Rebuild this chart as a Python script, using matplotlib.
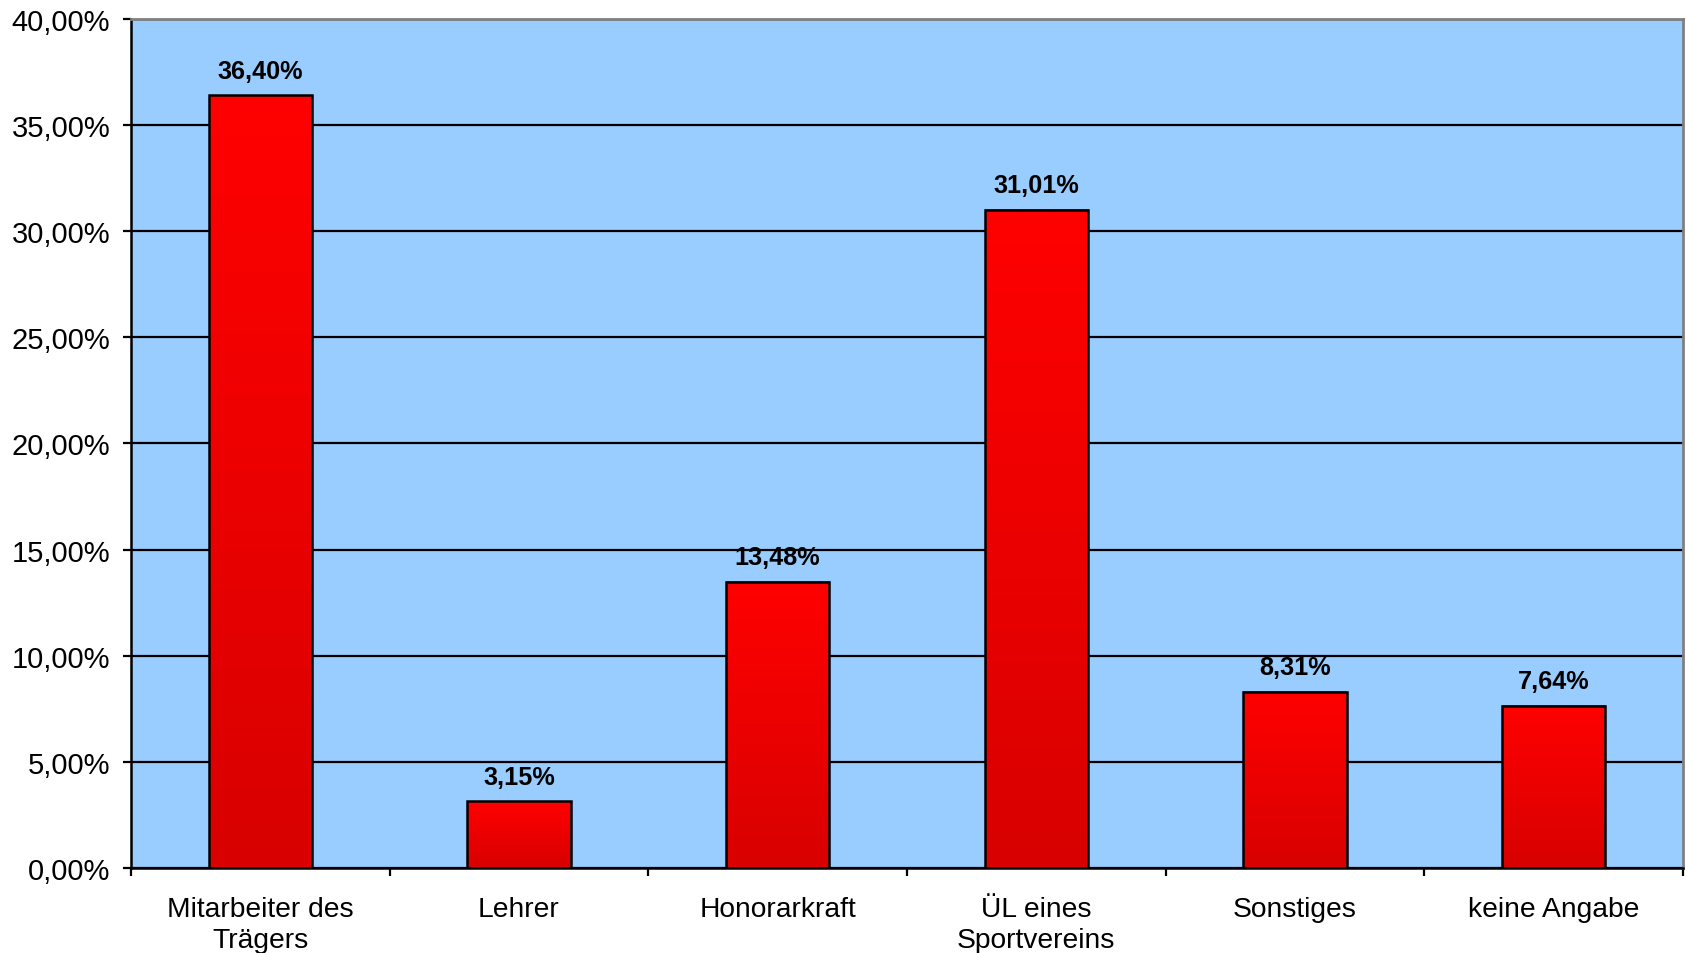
import numpy as np
import matplotlib.pyplot as plt
from matplotlib.colors import LinearSegmentedColormap
from matplotlib.ticker import FixedLocator, FuncFormatter

plt.rcParams['font.family'] = ['Liberation Sans', 'DejaVu Sans']

kategorien = ['Mitarbeiter des\nTrägers', 'Lehrer', 'Honorarkraft',
              'ÜL eines\nSportvereins', 'Sonstiges', 'keine Angabe']
werte = [36.40, 3.15, 13.48, 31.01, 8.31, 7.64]
y_ticks = [0, 5, 10, 15, 20, 25, 30, 35, 40]

fig = plt.figure(figsize=(16.86, 9.54), dpi=100)
ax = fig.add_axes([0.0777, 0.0891, 0.9205, 0.890])
ax.set_facecolor('#99CCFF')

verlauf = LinearSegmentedColormap.from_list('rot', ['#D80000', '#FF0000'])
grad = np.linspace(0, 1, 256).reshape(-1, 1)
breite = 0.4
x = np.arange(len(kategorien))

for xi, w in zip(x, werte):
    ax.imshow(grad, cmap=verlauf, origin='lower', aspect='auto',
              extent=(xi - breite / 2, xi + breite / 2, 0, w), zorder=3)
bars = ax.bar(x, werte, width=breite, facecolor='none', edgecolor='black',
              linewidth=1.8, zorder=4)

for xi, w in zip(x, werte):
    ax.annotate(f'{w:.2f}%'.replace('.', ','), (xi, w), xytext=(0, 9),
                textcoords='offset points', ha='center', va='bottom',
                fontsize=18.2, fontweight='bold', zorder=5)

ax.set_xlim(-0.5, len(kategorien) - 0.5)
ax.set_ylim(0, 40)
ax.set_yticks(y_ticks)
ax.yaxis.set_major_formatter(FuncFormatter(lambda v, p: f'{v:.2f}%'.replace('.', ',')))
ax.yaxis.grid(True, color='black', linewidth=1.6, zorder=1)
ax.set_axisbelow(True)

ax.xaxis.set_major_locator(FixedLocator(np.arange(-0.5, len(kategorien), 1.0)))
ax.xaxis.set_major_formatter(FuncFormatter(lambda v, p: ''))
ax.xaxis.set_minor_locator(FixedLocator(x))
ax.set_xticklabels(kategorien, minor=True, linespacing=1.25)
ax.tick_params(axis='x', which='minor', length=0, pad=20, labelsize=20.3)
ax.tick_params(axis='x', which='major', length=6, width=1.6, direction='out')
ax.tick_params(axis='y', length=6, width=1.6, direction='out', pad=9, labelsize=21)

ax.spines['left'].set_color('black')
ax.spines['bottom'].set_color('black')
ax.spines['left'].set_linewidth(1.8)
ax.spines['bottom'].set_linewidth(1.8)
ax.spines['top'].set_color('#808080')
ax.spines['right'].set_color('#808080')
ax.spines['top'].set_linewidth(2)
ax.spines['right'].set_linewidth(2)

fig.savefig('out.png', dpi=100)
